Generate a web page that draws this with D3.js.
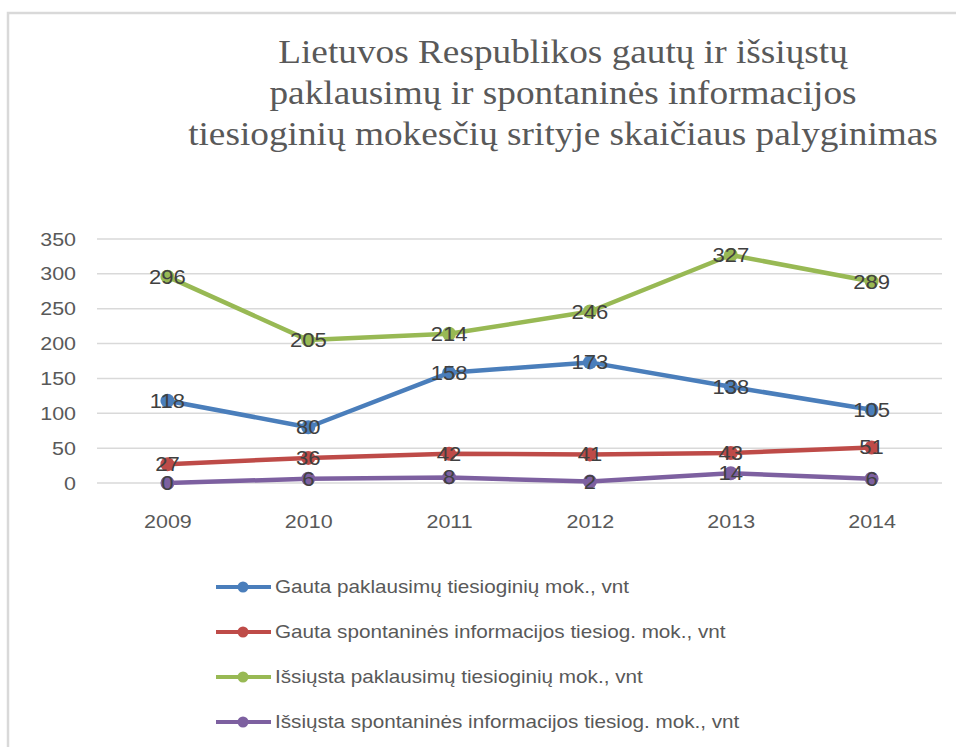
<!DOCTYPE html>
<html>
<head>
<meta charset="utf-8">
<script src="https://cdn.jsdelivr.net/npm/d3@7"></script>
<style>
  html, body { margin: 0; padding: 0; background: #fff; }
  svg { display: block; }
</style>
</head>
<body>
<svg id="chart" width="956" height="747"></svg>
<script>
// Years on the category axis
const years = ["2009", "2010", "2011", "2012", "2013", "2014"];

// Series values (units per year)
const gautaPaklausimu = [118, 80, 158, 173, 138, 105];
const gautaSpontanines = [27, 36, 42, 41, 43, 51];
const issiustaPaklausimu = [296, 205, 214, 246, 327, 289];
const issiustaSpontanines = [0, 6, 8, 2, 14, 6];

// Series names
const seriesNames = [
  "Gauta paklausimų tiesioginių mok., vnt",
  "Gauta spontaninės informacijos tiesiog. mok., vnt",
  "Išsiųsta paklausimų tiesioginių mok., vnt",
  "Išsiųsta spontaninės informacijos tiesiog. mok., vnt"
];

// Y axis ticks
const yTicks = [0, 50, 100, 150, 200, 250, 300, 350];

// Title lines
const titleLines = [
  "Lietuvos Respublikos gautų ir išsiųstų",
  "paklausimų ir spontaninės informacijos",
  "tiesioginių mokesčių srityje skaičiaus palyginimas"
];

const colors = ["#4A7EBB", "#BE4B48", "#98B954", "#7D60A0"];
const seriesValues = [gautaPaklausimu, gautaSpontanines, issiustaPaklausimu, issiustaSpontanines];
const series = seriesNames.map((name, i) => ({ name, values: seriesValues[i], color: colors[i] }));

// Text is drawn slightly wide, as in the original chart export
const WIDE = 1.13;
const sans = "'Liberation Sans', Arial, sans-serif";

const svg = d3.select("#chart");

// Chart area frame (top and left edges)
svg.append("path")
  .attr("d", "M8,747 V13 H956")
  .attr("fill", "none")
  .attr("stroke", "#d9d9d9")
  .attr("stroke-width", 2.5);

// Title
const title = svg.append("text")
  .attr("transform", `translate(563,0) scale(${WIDE},1)`)
  .attr("text-anchor", "middle")
  .attr("font-family", "'Liberation Serif', 'DejaVu Serif', serif")
  .attr("font-size", 33)
  .attr("fill", "#595959");
titleLines.forEach((line, i) => {
  title.append("tspan")
    .attr("x", 0)
    .attr("y", 63 + i * 41)
    .text(line);
});

const x = d3.scalePoint().domain(years).range([97, 942]).padding(0.5);
const y = d3.scaleLinear().domain([0, 350]).range([483, 239]);

// Horizontal gridlines
svg.append("g")
  .selectAll("line")
  .data(yTicks)
  .join("line")
  .attr("x1", 97)
  .attr("x2", 942)
  .attr("y1", d => y(d))
  .attr("y2", d => y(d))
  .attr("stroke", "#d9d9d9")
  .attr("stroke-width", 1.5);

// Y axis labels
const yAxis = svg.append("g")
  .attr("transform", "translate(76,0)")
  .call(d3.axisLeft(y).tickValues(yTicks).tickSize(0).tickPadding(0));
yAxis.select(".domain").remove();
yAxis.selectAll("text")
  .attr("transform", `scale(${WIDE},1)`)
  .attr("font-family", sans)
  .attr("font-size", 19)
  .attr("fill", "#595959");

// X axis labels
const xAxis = svg.append("g")
  .attr("transform", "translate(0,514)")
  .call(d3.axisBottom(x).tickSize(0).tickPadding(0));
xAxis.select(".domain").remove();
xAxis.selectAll("text")
  .attr("transform", `scale(${WIDE},1)`)
  .attr("font-family", sans)
  .attr("font-size", 19)
  .attr("fill", "#595959");

// Lines and markers
const line = d3.line()
  .x((d, i) => x(years[i]))
  .y(d => y(d));

const sg = svg.append("g")
  .selectAll("g")
  .data(series)
  .join("g");

sg.append("path")
  .attr("d", d => line(d.values))
  .attr("fill", "none")
  .attr("stroke", d => d.color)
  .attr("stroke-width", 4.5)
  .attr("stroke-linejoin", "round")
  .attr("stroke-linecap", "round");

sg.selectAll("circle")
  .data(d => d.values.map((v, i) => ({ v, year: years[i], color: d.color })))
  .join("circle")
  .attr("cx", d => x(d.year))
  .attr("cy", d => y(d.v))
  .attr("r", 7)
  .attr("fill", d => d.color);

// Value labels centred on each marker
sg.selectAll("text.val")
  .data(d => d.values.map((v, i) => ({ v, year: years[i] })))
  .join("text")
  .attr("class", "val")
  .attr("transform", d => `translate(${x(d.year)},${y(d.v)}) scale(${WIDE},1)`)
  .attr("dy", "0.36em")
  .attr("text-anchor", "middle")
  .attr("font-family", sans)
  .attr("font-size", 19.5)
  .attr("fill", "#404040")
  .text(d => d.v);

// Legend
const legend = svg.append("g")
  .selectAll("g")
  .data(series)
  .join("g")
  .attr("transform", (d, i) => `translate(0,${587 + i * 45})`);

legend.append("line")
  .attr("x1", 216).attr("x2", 271)
  .attr("stroke", d => d.color)
  .attr("stroke-width", 4);
legend.append("circle")
  .attr("cx", 243)
  .attr("r", 5.5)
  .attr("fill", d => d.color);
legend.append("text")
  .attr("transform", `translate(275,0) scale(1.15,1)`)
  .attr("dy", "0.36em")
  .attr("font-family", sans)
  .attr("font-size", 18)
  .attr("fill", "#595959")
  .text(d => d.name);
</script>
</body>
</html>
